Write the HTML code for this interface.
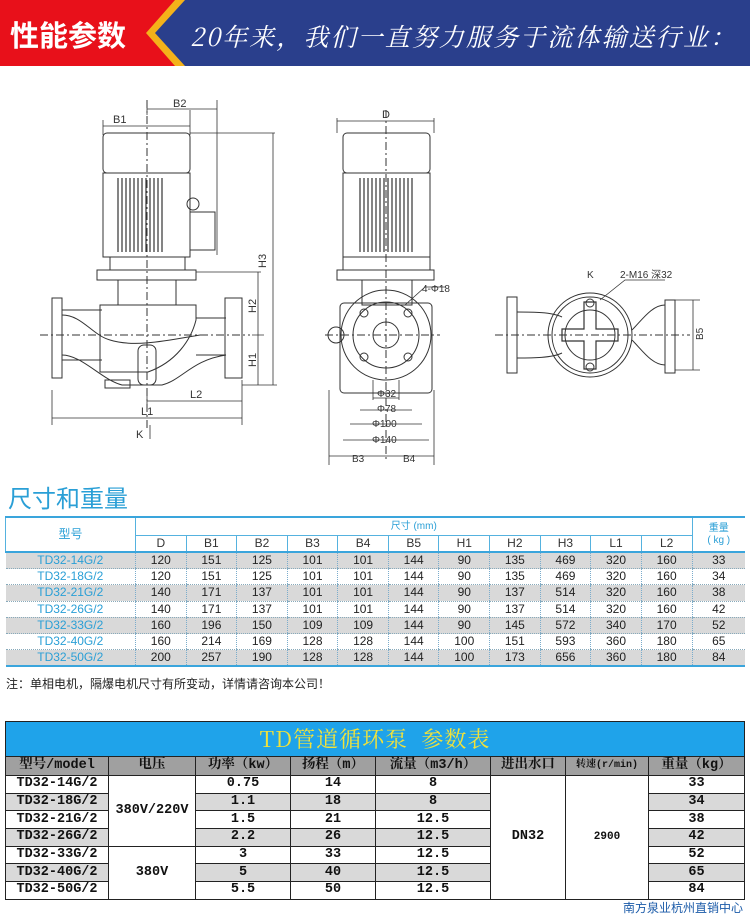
<!DOCTYPE html>
<html><head><meta charset="utf-8"><style>
*{margin:0;padding:0;box-sizing:border-box}
body{width:750px;height:917px;background:#fff;position:relative;overflow:hidden;font-family:"Liberation Sans","Noto Sans CJK SC",sans-serif}
.abs{position:absolute}
table{border-collapse:collapse;position:absolute}
#t1{left:5px;top:518px;width:740px;font-size:12px;color:#222}
#t1 td{text-align:center;padding:0;height:16.3px;line-height:15px;border-left:1px dotted #7aaccc}
#t1 td:first-child{border-left:none;color:#2a9fd6}
#t1 tr.d td{border-bottom:1px dotted #8ab}
#t1 tr.g td{background:#d9d9d9}
#t1 .h td{color:#333;height:17px;border-left:1px solid #55b2df}
#t2{left:5px;top:721px;width:740px;font-family:"Liberation Mono","Noto Serif CJK SC",monospace;font-weight:bold;font-size:13.5px;color:#111}
#t2 td{border:1px solid #222;text-align:center;padding:0;height:17.7px;line-height:16px}
#t2 tr.g td.s{background:#d9d9d9}
</style></head><body>
<svg class="abs" style="left:0;top:0" width="750" height="70">
<rect x="0" y="0" width="750" height="66" fill="#2a3f8c"/>
<polygon points="0,0 185,0 155,33 185,66 0,66" fill="#f4b21a"/>
<polygon points="0,0 175,0 146,33 175,66 0,66" fill="#e8101a"/>
<rect x="0" y="66" width="750" height="4" fill="#fff"/>
<text x="10" y="46" font-family="Noto Sans CJK SC" font-size="29" fill="#fff" font-weight="bold">性能参数</text>
<text x="190" y="46" font-family="Noto Serif CJK SC" font-size="25" fill="#fff" font-style="italic" textLength="545" lengthAdjust="spacing">20年来，我们一直努力服务于流体输送行业：</text>
</svg>
<svg class="abs" style="left:0;top:70" width="750" height="400" font-family="Liberation Sans" font-size="10" fill="none" stroke="#333" stroke-width="1">
<g transform="translate(0,-70)">
<rect x="103" y="133" width="87" height="40" rx="4"/>
<rect x="103" y="173" width="87" height="84"/>
<g stroke-width="1.2"><path d="M118 178V252M122 178V252M126 178V252M130 178V252M134 178V252M138 178V252M142 178V252M146 178V252M150 178V252M154 178V252M158 178V252M162 178V252"/></g>
<rect x="190" y="212" width="25" height="38"/>
<circle cx="193" cy="204" r="6"/>
<rect x="110" y="257" width="75" height="13"/>
<rect x="97" y="270" width="99" height="10"/>
<rect x="118" y="280" width="58" height="25"/>
<path d="M100 305h96v15c-5 20-20 42-48 52H100z"/>
<path d="M62 310h40M62 360h40M196 318h30M196 355h30"/>
<path d="M62 315c20 0 30 20 48 25c25 8 60 0 90-5"/>
<path d="M62 355c20 0 40 25 60 30h40c20-5 30-25 64-30"/>
<rect x="52" y="298" width="10" height="80"/>
<rect x="225" y="298" width="17" height="80"/>
<rect x="138" y="345" width="18" height="40" rx="6"/>
<rect x="105" y="380" width="25" height="8"/>
<path stroke-dasharray="8,3,2,3" d="M40 335H250M147 100V430"/>
<path stroke-width="0.8" d="M103 120v15M190 110v25M147 105v10M103 126h87M147 109h70M217 100v155M190 133h85M196 272h65M242 385h35M273 133v252M258 272v113M252 335h12M52 390v35M242 380v45M147 395v12M52 418h190M147 401h95M150 425v14"/>
<g fill="#333" stroke="none" font-size="11">
<text x="113" y="123">B1</text><text x="173" y="107">B2</text>
<text x="266" y="268" transform="rotate(-90 266 268)">H3</text>
<text x="256" y="313" transform="rotate(-90 256 313)">H2</text>
<text x="256" y="367" transform="rotate(-90 256 367)">H1</text>
<text x="141" y="415">L1</text><text x="190" y="398">L2</text><text x="136" y="438">K</text>
</g>
<rect x="343" y="133" width="87" height="40" rx="4"/>
<rect x="343" y="173" width="87" height="84"/>
<path stroke-width="1.2" d="M360 178V252M364 178V252M368 178V252M372 178V252M376 178V252M380 178V252M384 178V252M388 178V252M392 178V252M396 178V252M400 178V252M404 178V252M408 178V252M412 178V252"/>
<rect x="343" y="257" width="87" height="13"/>
<rect x="337" y="270" width="97" height="10"/>
<rect x="362" y="280" width="50" height="25"/>
<rect x="340" y="303" width="92" height="90" rx="4"/>
<circle cx="386" cy="335" r="45"/>
<circle cx="386" cy="335" r="33"/>
<circle cx="386" cy="335" r="13"/>
<circle cx="364" cy="313" r="4"/><circle cx="408" cy="313" r="4"/><circle cx="364" cy="357" r="4"/><circle cx="408" cy="357" r="4"/>
<circle cx="336" cy="335" r="8"/>
<path stroke-dasharray="8,3,2,3" d="M325 335H440M386 110V460"/>
<path stroke-width="0.8" d="M337 118v15M434 118v15M337 121h97M373 380v20M399 380v20M373 398h26M360 410h52M350 424h72M343 440h86M329 456h105M329 390v75M434 390v75M405 305l20-18h20"/>
<g fill="#333" stroke="none" font-size="10">
<text x="382" y="118" font-size="11">D</text>
<text x="377" y="397">Φ32</text><text x="377" y="412">Φ78</text><text x="372" y="427">Φ100</text><text x="372" y="443">Φ140</text>
<text x="352" y="462">B3</text><text x="403" y="462">B4</text>
<text x="422" y="292">4-Φ18</text>
</g>
<circle cx="590" cy="335" r="42"/>
<circle cx="590" cy="335" r="38"/>
<circle cx="590" cy="335" r="25"/>
<path stroke-width="1.2" d="M584 302h12v27h22v12h-22v28h-12v-28h-22v-12h22z"/>
<circle cx="590" cy="303" r="4"/><circle cx="590" cy="367" r="4"/>
<path d="M517 312c15 0 35 0 45 5M517 358c15 0 35 0 45-5M632 330c10-10 20-25 33-25M632 340c10 10 20 25 33 25"/>
<rect x="507" y="297" width="10" height="76"/>
<rect x="665" y="300" width="10" height="73"/>
<path stroke-dasharray="8,3,2,3" d="M495 335H690"/>
<path stroke-width="0.8" d="M675 300h25M675 370h25M693 300v70M600 300l25-20h40"/>
<g fill="#333" stroke="none" font-size="10">
<text x="587" y="278">K</text><text x="620" y="278">2-M16 深32</text>
<text x="703" y="340" transform="rotate(-90 703 340)">B5</text>
</g>
</g>
</svg>
<div class="abs" style="left:8px;top:482px;font-size:24px;color:#2a9fd6;font-family:'Noto Sans CJK SC',sans-serif;line-height:30px">尺寸和重量</div>
<div class="abs" style="left:5px;top:516px;width:740px;height:2px;background:#3aa5dc"></div>
<table id="t1">
<tr class="h"><td rowspan="2" style="width:130px;color:#2a9fd6">型号</td><td colspan="11" style="color:#2a9fd6;font-size:10px;border-bottom:1px solid #55b2df">尺寸 (mm)</td><td rowspan="2" style="width:53px;color:#2a9fd6;font-size:10px;line-height:12px">重量<br>( kg )</td></tr>
<tr class="h" style="border-bottom:2px solid #3aa5dc"><td>D</td><td>B1</td><td>B2</td><td>B3</td><td>B4</td><td>B5</td><td>H1</td><td>H2</td><td>H3</td><td>L1</td><td>L2</td></tr>
<tr class="d g"><td>TD32-14G/2</td><td>120</td><td>151</td><td>125</td><td>101</td><td>101</td><td>144</td><td>90</td><td>135</td><td>469</td><td>320</td><td>160</td><td>33</td></tr>
<tr class="d"><td>TD32-18G/2</td><td>120</td><td>151</td><td>125</td><td>101</td><td>101</td><td>144</td><td>90</td><td>135</td><td>469</td><td>320</td><td>160</td><td>34</td></tr>
<tr class="d g"><td>TD32-21G/2</td><td>140</td><td>171</td><td>137</td><td>101</td><td>101</td><td>144</td><td>90</td><td>137</td><td>514</td><td>320</td><td>160</td><td>38</td></tr>
<tr class="d"><td>TD32-26G/2</td><td>140</td><td>171</td><td>137</td><td>101</td><td>101</td><td>144</td><td>90</td><td>137</td><td>514</td><td>320</td><td>160</td><td>42</td></tr>
<tr class="d g"><td>TD32-33G/2</td><td>160</td><td>196</td><td>150</td><td>109</td><td>109</td><td>144</td><td>90</td><td>145</td><td>572</td><td>340</td><td>170</td><td>52</td></tr>
<tr class="d"><td>TD32-40G/2</td><td>160</td><td>214</td><td>169</td><td>128</td><td>128</td><td>144</td><td>100</td><td>151</td><td>593</td><td>360</td><td>180</td><td>65</td></tr>
<tr class="d g" style="border-bottom:2px solid #3aa5dc"><td>TD32-50G/2</td><td>200</td><td>257</td><td>190</td><td>128</td><td>128</td><td>144</td><td>100</td><td>173</td><td>656</td><td>360</td><td>180</td><td>84</td></tr>
</table>
<div class="abs" style="left:6px;top:675px;font-size:12px;color:#222">注：单相电机，隔爆电机尺寸有所变动，详情请咨询本公司！</div>
<table id="t2">
<tr><td colspan="8" style="background:#1fa3ea;height:35px;color:#f2e23a;font-family:'Noto Serif CJK SC',serif;font-weight:normal;font-size:22px;letter-spacing:1px">TD管道循环泵&nbsp; 参数表</td></tr>
<tr style="background:#a0a0a0"><td style="width:103px;height:19px">型号/model</td><td style="width:87px">电压</td><td style="width:95px">功率（kw）</td><td style="width:85px">扬程（m）</td><td style="width:115px">流量（m3/h）</td><td style="width:75px">进出水口</td><td style="width:83px;font-size:10px">转速(r/min)</td><td>重量（kg）</td></tr>
<tr><td>TD32-14G/2</td><td rowspan="4">380V/220V</td><td>0.75</td><td>14</td><td>8</td><td rowspan="7">DN32</td><td rowspan="7" style="font-size:11px">2900</td><td>33</td></tr>
<tr class="g"><td class="s">TD32-18G/2</td><td class="s">1.1</td><td class="s">18</td><td class="s">8</td><td class="s">34</td></tr>
<tr><td>TD32-21G/2</td><td>1.5</td><td>21</td><td>12.5</td><td>38</td></tr>
<tr class="g"><td class="s">TD32-26G/2</td><td class="s">2.2</td><td class="s">26</td><td class="s">12.5</td><td class="s">42</td></tr>
<tr><td>TD32-33G/2</td><td rowspan="3">380V</td><td>3</td><td>33</td><td>12.5</td><td>52</td></tr>
<tr class="g"><td class="s">TD32-40G/2</td><td class="s">5</td><td class="s">40</td><td class="s">12.5</td><td class="s">65</td></tr>
<tr><td>TD32-50G/2</td><td>5.5</td><td>50</td><td>12.5</td><td>84</td></tr>
</table>
<div class="abs" style="left:623px;top:900px;font-size:12px;color:#1a5aa8;font-family:'Noto Sans CJK SC',sans-serif;line-height:15px">南方泉业杭州直销中心</div>
</body></html>
